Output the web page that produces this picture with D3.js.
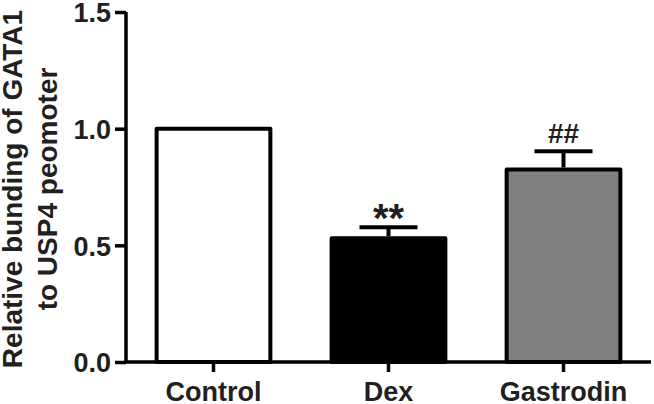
<!DOCTYPE html>
<html>
<head>
<meta charset="utf-8">
<script src="https://cdn.jsdelivr.net/npm/d3@7"></script>
<style>
  body { margin: 0; background: #fff; }
  text { font-family: "Liberation Sans", Arial, sans-serif; font-weight: bold; fill: #231f20; }
</style>
</head>
<body>
<div id="chart"></div>
<script>
const groups = ["Control", "Dex", "Gastrodin"];
const means = [1.0, 0.53, 0.825];
const errors = [0, 0.048, 0.078];
const marks = ["", "**", "##"];
const fills = ["#ffffff", "#000000", "#808080"];
const yTicks = [0.0, 0.5, 1.0, 1.5];

const width = 654;
const height = 404;

const svg = d3.select("#chart")
    .append("svg")
    .attr("width", width)
    .attr("height", height);

const x = d3.scaleBand()
    .domain(groups)
    .range([126, 651])
    .paddingInner(0.35)
    .paddingOuter(0.175);

const y = d3.scaleLinear()
    .domain([0, 1.5])
    .range([362, 12]);

// bars
svg.selectAll(".bar")
    .data(groups)
    .enter().append("rect")
    .attr("class", "bar")
    .attr("x", d => x(d))
    .attr("y", (d, i) => y(means[i]))
    .attr("width", x.bandwidth())
    .attr("height", (d, i) => y(0) - y(means[i]))
    .attr("fill", (d, i) => fills[i])
    .attr("stroke", "#000")
    .attr("stroke-width", 4)
    .attr("stroke-linejoin", "round");

// error bars
const capW = 58;
groups.forEach((g, i) => {
    if (!errors[i]) return;
    const cx = x(g) + x.bandwidth() / 2;
    svg.append("line")
        .attr("x1", cx).attr("x2", cx)
        .attr("y1", y(means[i]) - 2).attr("y2", y(means[i] + errors[i]))
        .attr("stroke", "#000").attr("stroke-width", 4);
    svg.append("line")
        .attr("x1", cx - capW / 2).attr("x2", cx + capW / 2)
        .attr("y1", y(means[i] + errors[i])).attr("y2", y(means[i] + errors[i]))
        .attr("stroke", "#000").attr("stroke-width", 4);
});

// significance marks (asterisks sit high in the em box, so they get a bigger font)
svg.selectAll(".mark")
    .data(groups)
    .enter().append("text")
    .attr("class", "mark")
    .attr("x", d => x(d) + x.bandwidth() / 2)
    .attr("y", (d, i) => marks[i] === "**" ? y(means[i] + errors[i]) + 5 : y(means[i] + errors[i]) - 8)
    .attr("text-anchor", "middle")
    .style("font-size", (d, i) => marks[i] === "**" ? "40px" : "28px")
    .text((d, i) => marks[i]);

// axes
const yAxis = svg.append("g")
    .attr("transform", "translate(126,0)")
    .call(d3.axisLeft(y).tickValues(yTicks).tickFormat(d3.format(".1f")).tickSize(11).tickPadding(4));

const xAxis = svg.append("g")
    .attr("transform", "translate(0,362)")
    .call(d3.axisBottom(x).tickSize(10).tickPadding(12));

[yAxis, xAxis].forEach(a => {
    a.select(".domain").attr("stroke", "#000").attr("stroke-width", 3.5);
    a.selectAll(".tick line").attr("stroke", "#000").attr("stroke-width", 3.5);
    a.selectAll("text").attr("fill", "#231f20").style("font-size", "27px");
});
yAxis.select(".domain").attr("d", "M0,12V362");
xAxis.select(".domain").attr("d", "M126,0H651");
xAxis.selectAll("text").attr("dy", null).attr("y", 39);
yAxis.selectAll("text").attr("dy", "0.36em");

// y title
const title = svg.append("text")
    .attr("transform", "translate(0,189) rotate(-90)")
    .attr("text-anchor", "middle")
    .style("font-size", "28px");
title.append("tspan").attr("x", 0).attr("y", 22).text("Relative bunding of GATA1");
title.append("tspan").attr("x", 0).attr("y", 57).text("to USP4 peomoter");
</script>
</body>
</html>
